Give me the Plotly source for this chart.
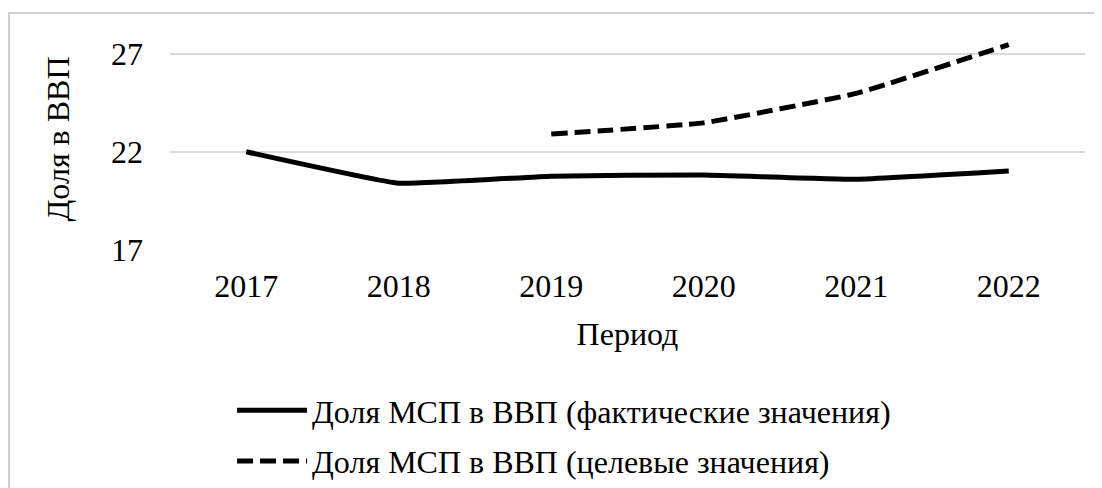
import plotly.graph_objects as go

years = ["2017", "2018", "2019", "2020", "2021", "2022"]
actual = [22.0, 20.4, 20.76, 20.82, 20.6, 21.02]
target_years = ["2019", "2020", "2021", "2022"]
target = [22.9, 23.47, 24.97, 27.45]
y_ticks = [17, 22, 27]

name_actual = "Доля МСП в ВВП (фактические значения)"
name_target = "Доля МСП в ВВП (целевые значения)"

FONT = "Liberation Serif"
FS = 32

fig = go.Figure()
fig.add_trace(go.Scatter(x=years, y=actual, mode="lines", name=name_actual, legendgroup="a",
                         line=dict(color="black", width=5), line_shape="spline", line_smoothing=0.3))
fig.add_trace(go.Scatter(x=target_years, y=target, mode="lines", name=name_target, legendgroup="t",
                         line=dict(color="black", width=5, dash="16px,7px"), line_shape="spline", line_smoothing=0.3))

fig.update_layout(
    width=1102, height=488,
    margin=dict(l=162, r=0, t=20, b=246, pad=0),
    paper_bgcolor="white", plot_bgcolor="white",
    font=dict(family=FONT, size=FS, color="black"),
    showlegend=True,
    legend=dict(x=0.066, xanchor="left", y=-1.0766, yanchor="bottom",
                orientation="v", itemwidth=70, font=dict(family=FONT, size=FS),
                bgcolor="rgba(0,0,0,0)", tracegroupgap=6),
    shapes=[dict(type="rect", xref="paper", yref="paper",
                 x0=-0.1713, x1=1.1, y0=-1.3, y1=1.0676,
                 line=dict(color="#d0d0d0", width=2), layer="above")],
)
fig.update_xaxes(type="category", range=[-0.5, 5.5], domain=[0, 0.9734], automargin=False,
                 showgrid=False, showline=False, zeroline=False,
                 tickfont=dict(family=FONT, size=FS), ticklabelstandoff=14,
                 title=dict(text="Период", font=dict(family=FONT, size=FS), standoff=19))
fig.update_yaxes(range=[17, 28.3], tickvals=y_ticks, automargin=False, showgrid=True, gridcolor="#d9d9d9",
                 gridwidth=1.5, zeroline=False, showline=False,
                 tickfont=dict(family=FONT, size=FS), ticklabelstandoff=26,
                 title=dict(text="Доля в ВВП", font=dict(family=FONT, size=FS), standoff=31))

fig.write_html("out.html")
